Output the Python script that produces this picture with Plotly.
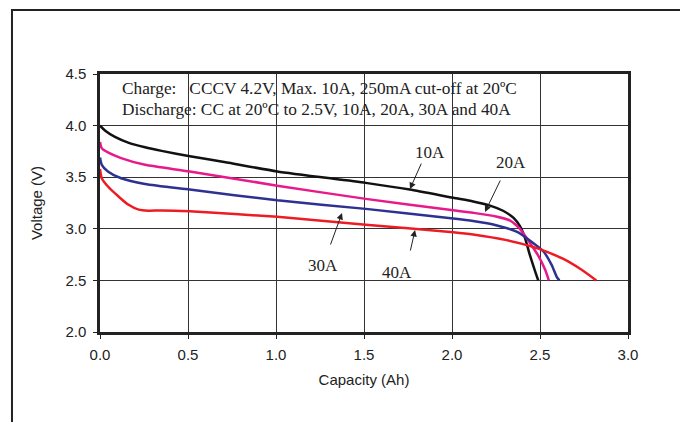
import plotly.graph_objects as go

# ---- data ----
cap_10A = [0, 0.03, 0.085, 0.16, 0.256, 0.35, 0.511, 0.73, 1.007, 1.51, 1.76, 2.007, 2.12, 2.216, 2.29, 2.35, 2.386, 2.415, 2.44, 2.47, 2.49]
v_10A = [4.0, 3.95, 3.89, 3.835, 3.79, 3.755, 3.703, 3.64, 3.556, 3.445, 3.38, 3.30, 3.265, 3.225, 3.175, 3.105, 3.025, 2.91, 2.76, 2.60, 2.50]

cap_20A = [0, 0.01, 0.045, 0.12, 0.256, 0.51, 1.007, 1.51, 2.007, 2.12, 2.25, 2.33, 2.386, 2.44, 2.49, 2.53, 2.55]
v_20A = [3.84, 3.78, 3.74, 3.685, 3.62, 3.556, 3.418, 3.29, 3.18, 3.155, 3.12, 3.08, 3.0, 2.87, 2.74, 2.6, 2.5]

cap_30A = [0, 0.01, 0.045, 0.12, 0.256, 0.51, 1.007, 1.51, 2.007, 2.12, 2.25, 2.37, 2.44, 2.52, 2.566, 2.595, 2.61]
v_30A = [3.69, 3.62, 3.556, 3.49, 3.435, 3.38, 3.276, 3.193, 3.1, 3.075, 3.035, 2.97, 2.89, 2.78, 2.65, 2.535, 2.5]

cap_40A = [0, 0.01, 0.045, 0.104, 0.16, 0.22, 0.274, 0.35, 0.51, 1.007, 1.51, 2.007, 2.12, 2.31, 2.46, 2.54, 2.63, 2.73, 2.82]
v_40A = [3.58, 3.49, 3.41, 3.315, 3.235, 3.186, 3.176, 3.178, 3.17, 3.116, 3.04, 2.967, 2.945, 2.89, 2.825, 2.776, 2.71, 2.61, 2.5]

series_names = ["10A", "20A", "30A", "40A"]
series_colors = ["#111111", "#E8198B", "#2E3192", "#ED1C24"]

x_ticks = [0.0, 0.5, 1.0, 1.5, 2.0, 2.5, 3.0]
y_ticks = [2.0, 2.5, 3.0, 3.5, 4.0, 4.5]

note_lines = [
    "Charge:\u00a0\u00a0\u00a0CCCV 4.2V, Max. 10A, 250mA cut-off at 20ºC",
    "Discharge: CC at 20ºC to 2.5V, 10A, 20A, 30A and 40A",
]

# label positions (text) and arrow heads, in data units
label_text_pos = [(1.875, 3.744), (2.335, 3.638), (1.267, 2.64), (1.6875, 2.58)]
arrow_heads = [(1.761, 3.385), (2.1875, 3.163), (1.375, 3.153), (1.79, 2.988)]
arrow_offsets = [(12, -27), (16, -33), (-12, 33), (-5, 22)]

caps = [cap_10A, cap_20A, cap_30A, cap_40A]
volts = [v_10A, v_20A, v_30A, v_40A]

fig = go.Figure()
for name, c, xs, ys in zip(series_names, series_colors, caps, volts):
    fig.add_trace(go.Scatter(x=xs, y=ys, mode="lines", name=name,
                             line=dict(color=c, width=2.5, shape="spline", smoothing=0.6),
                             showlegend=False))

serif = "Liberation Serif"
sans = "Liberation Sans"

annotations = []
for i, line in enumerate(note_lines):
    annotations.append(dict(xref="paper", yref="paper", x=0.0379, y=[0.9457, 0.8643][i],
                            xanchor="left", yanchor="middle", text=line, showarrow=False,
                            font=dict(family=serif, size=17.3, color="#222")))
for name, (tx, ty), (hx, hy), (ax, ay) in zip(series_names, label_text_pos, arrow_heads, arrow_offsets):
    annotations.append(dict(x=tx, y=ty, xref="x", yref="y", text=name, showarrow=False,
                            font=dict(family=serif, size=17, color="#222")))
    annotations.append(dict(x=hx, y=hy, xref="x", yref="y", text="", showarrow=True,
                            ax=ax, ay=ay, arrowhead=2, arrowsize=1.3, arrowwidth=1,
                            arrowcolor="#222"))

axis_common = dict(showgrid=True, gridcolor="#333", gridwidth=1,
                   showline=True, linecolor="#222", linewidth=2.5, mirror=True,
                   ticks="outside", ticklen=4, tickcolor="#222", tickwidth=1,
                   tickfont=dict(family=sans, size=15, color="#222"),
                   zeroline=False, tickformat=".1f", automargin=False)

# page body has an 8px margin, so the figure is offset by 8px
fig.update_layout(
    width=680, height=414,
    margin=dict(l=92, r=60, t=66, b=90),
    paper_bgcolor="white", plot_bgcolor="white",
    xaxis=dict(range=[0, 3], tickvals=x_ticks, ticklabelstandoff=3,
               title=dict(text="Capacity (Ah)", standoff=13,
                          font=dict(family=sans, size=15, color="#222")), **axis_common),
    yaxis=dict(range=[2, 4.5], tickvals=y_ticks, ticklabelstandoff=4,
               title=dict(text="Voltage (V)", standoff=20,
                          font=dict(family=sans, size=15, color="#222")), **axis_common),
    annotations=annotations,
    shapes=[dict(type="rect", xref="paper", yref="paper",
                 x0=-0.1667, x1=1.1004, y0=-0.6, y1=1.248,
                 line=dict(color="#222", width=2))],
)

fig.write_html("out.html")
